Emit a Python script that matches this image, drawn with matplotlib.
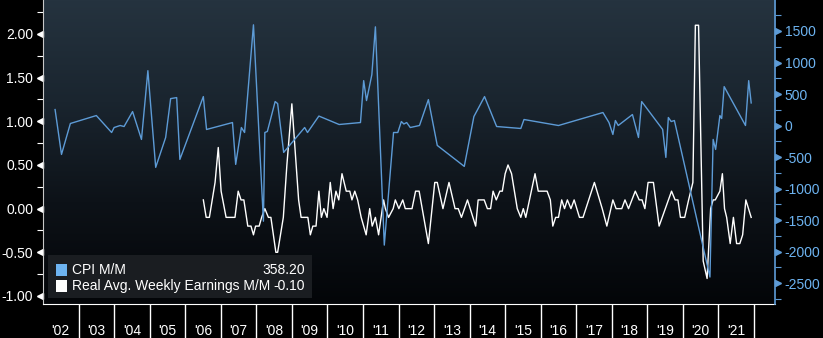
import numpy as np
import matplotlib
matplotlib.use("Agg")
import matplotlib.pyplot as plt
from matplotlib.colors import LinearSegmentedColormap
from matplotlib.patches import Rectangle

plt.rcParams['font.family'] = ['Liberation Sans', 'DejaVu Sans']

# CPI M/M (right axis), dates as decimal years
cpi_dates = [2002.34, 2002.52, 2002.77, 2003.50, 2003.93, 2004.00, 2004.17, 2004.28,
             2004.52, 2004.77, 2004.95, 2005.17, 2005.45, 2005.59, 2005.76, 2005.85,
             2006.51, 2006.60, 2007.33, 2007.42, 2007.58, 2007.67, 2007.92, 2008.20,
             2008.24, 2008.31, 2008.53, 2008.60, 2008.77, 2009.36, 2009.44, 2009.76,
             2010.33, 2010.93, 2011.02, 2011.10, 2011.25, 2011.35, 2011.60, 2011.86,
             2011.98, 2012.08, 2012.15, 2012.23, 2012.33, 2012.59, 2012.84, 2013.09,
             2013.85, 2014.12, 2014.42, 2014.76, 2015.44, 2015.53, 2016.50, 2017.75,
             2017.92, 2018.03, 2018.10, 2018.18, 2018.58, 2018.75, 2018.84, 2019.43,
             2019.52, 2019.59, 2019.67, 2019.76, 2020.76, 2020.85, 2020.92, 2021.04,
             2021.09, 2021.16, 2021.76, 2021.85, 2021.92]
cpi_values = [253, -459, 32, 158, -111, -32, 0, -16,
              221, -221, 870, -664, -190, 427, 443, -538,
              459, -63, 47, -617, -32, -111, 1598, -1519,
              -111, -95, 380, 348, -427, -32, -111, 150,
              16, 47, 712, 396, 807, 1566, -1898, -111,
              -111, 63, 24, 47, -32, 0, 411, -316,
              -649, 142, 459, -16, -47, 95, 0, 206,
              47, -142, 79, 0, 174, -190, 380, -63,
              -506, 127, 63, 79, -2405, -221, -380, 158,
              111, 617, 0, 712, 358.20]

# Real Avg. Weekly Earnings M/M (left axis)
earn_dates = [2006.51, 2006.59, 2006.68, 2006.84, 2006.93, 2007.01, 2007.15, 2007.40,
              2007.49, 2007.57, 2007.65, 2007.76, 2007.85, 2007.92, 2007.98, 2008.08,
              2008.15, 2008.24, 2008.34, 2008.41, 2008.55, 2008.60, 2008.76, 2008.86,
              2009.00, 2009.19, 2009.26, 2009.45, 2009.52, 2009.59, 2009.68, 2009.76,
              2009.83, 2009.90, 2009.99, 2010.08, 2010.16, 2010.24, 2010.32, 2010.41,
              2010.53, 2010.63, 2010.69, 2010.77, 2010.85, 2010.95, 2011.09, 2011.19,
              2011.26, 2011.35, 2011.44, 2011.58, 2011.63, 2011.72, 2011.85, 2011.91,
              2012.01, 2012.12, 2012.19, 2012.38, 2012.48, 2012.58, 2012.84, 2013.02,
              2013.09, 2013.25, 2013.42, 2013.59, 2013.68, 2013.77, 2013.94, 2014.17,
              2014.24, 2014.41, 2014.50, 2014.59, 2014.66, 2014.75, 2014.85, 2014.92,
              2015.00, 2015.08, 2015.18, 2015.34, 2015.44, 2015.51, 2015.58, 2015.84,
              2015.93, 2016.18, 2016.27, 2016.34, 2016.42, 2016.50, 2016.59, 2016.67,
              2016.75, 2016.85, 2016.94, 2017.09, 2017.19, 2017.51, 2017.73, 2017.86,
              2018.03, 2018.12, 2018.28, 2018.37, 2018.47, 2018.66, 2018.77, 2018.85,
              2018.93, 2019.02, 2019.17, 2019.33, 2019.68, 2019.78, 2019.86, 2019.93,
              2020.05, 2020.16, 2020.28, 2020.35, 2020.44, 2020.57, 2020.68, 2020.78,
              2020.85, 2020.91, 2021.04, 2021.11, 2021.17, 2021.23, 2021.33, 2021.42,
              2021.51, 2021.60, 2021.68, 2021.77, 2021.92]
earn_values = [0.1, -0.1, -0.1, 0.3, 0.7, 0.2, -0.1, -0.1,
               0.2, 0.1, 0.1, -0.2, -0.2, -0.3, -0.2, -0.2,
               -0.1, 0.0, -0.1, -0.1, -0.5, -0.5, -0.1, 0.5,
               1.2, 0.1, -0.1, -0.1, -0.3, -0.2, -0.2, 0.2,
               -0.1, 0.0, -0.1, 0.3, 0.0, 0.2, 0.1, 0.4,
               0.2, 0.2, 0.1, 0.2, 0.1, -0.1, -0.3, 0.0,
               -0.2, -0.1, -0.3, 0.1, 0.0, -0.1, 0.0, 0.1,
               0.0, 0.1, 0.0, 0.0, 0.2, 0.2, -0.4, 0.3,
               0.3, 0.0, 0.3, 0.0, 0.0, -0.1, 0.1, -0.2,
               0.1, 0.1, 0.0, 0.0, 0.2, 0.1, 0.2, 0.2,
               0.4, 0.5, 0.4, 0.0, -0.1, 0.0, -0.1, 0.4,
               0.2, 0.2, 0.1, -0.2, -0.1, -0.1, 0.1, 0.0,
               0.1, 0.0, 0.1, -0.1, -0.1, 0.3, 0.0, -0.2,
               0.1, 0.0, 0.0, 0.1, 0.0, 0.2, 0.1, 0.1,
               0.0, 0.3, 0.3, -0.2, 0.2, 0.1, 0.1, -0.1,
               -0.1, 0.1, 0.3, 2.1, 2.1, -0.6, -0.8, 0.0,
               0.1, 0.1, 0.2, 0.4, 0.0, -0.1, -0.4, -0.1,
               -0.4, -0.4, -0.3, 0.1, -0.10]

years = list(range(2002, 2022))
year_labels = ["'%02d" % (y % 100) for y in years]

left_ticks = [-1.0, -0.5, 0.0, 0.5, 1.0, 1.5, 2.0]
right_ticks = [-2500, -2000, -1500, -1000, -500, 0, 500, 1000, 1500]

BLUE = '#5d9bd6'
BLUE_KEY = '#6db3f0'
FS = 10

fig = plt.figure(figsize=(8.23, 3.38), dpi=100, facecolor='black')
ax = fig.add_axes([43 / 823, 34 / 338, 732 / 823, 304 / 338])
ax2 = ax.twinx()

# dark slate -> black background gradient
cmap = LinearSegmentedColormap.from_list('bg', ['#030508', '#0d1218', '#1a252f', '#25333f'])
ax.imshow(np.linspace(1, 0, 256).reshape(-1, 1), cmap=cmap, aspect='auto',
          extent=[0, 1, 0, 1], transform=ax.transAxes, zorder=0)

ax.plot(earn_dates, earn_values, color='white', lw=1.0, zorder=3)
ax2.plot(cpi_dates, cpi_values, color=BLUE, lw=1.0, zorder=3)

ax.set_xlim(2002, 2022.59)
ax.set_ylim(-1.092, 2.389)
ax2.set_ylim(-2833, 1992)

for s in ['top', 'right']:
    ax.spines[s].set_visible(False)
for s in ['top', 'left', 'bottom']:
    ax2.spines[s].set_visible(False)
ax.spines['left'].set_color('#c8c8c8')
ax.spines['bottom'].set_color('white')
ax2.spines['right'].set_color(BLUE)
ax2.spines['right'].set_linewidth(1.2)

ax.set_xticks([])

# left axis: white labels, arrow markers, small minor ticks
ax.set_yticks(left_ticks)
ax.set_yticklabels(['%.2f' % v for v in left_ticks])
ax.set_yticks(np.arange(-0.75, 2.3, 0.5), minor=True)
ax.tick_params(axis='y', which='major', length=0, pad=7, labelcolor='white', labelsize=FS)
ax.tick_params(axis='y', which='minor', length=4, width=0.8, color='white')
ax.plot([-0.0042] * len(left_ticks), left_ticks, marker='<', ms=4.5, ls='none',
        color='white', transform=ax.get_yaxis_transform(), clip_on=False)

# right axis: blue labels and markers
ax2.set_yticks(right_ticks)
ax2.set_yticklabels(['%d' % v for v in right_ticks])
ax2.set_yticks(np.arange(-2750, 1800, 500), minor=True)
ax2.tick_params(axis='y', which='major', length=0, pad=7, labelcolor=BLUE_KEY, labelsize=FS)
ax2.tick_params(axis='y', which='minor', length=4, width=0.8, color=BLUE)
ax2.plot([1.0042] * len(right_ticks), right_ticks, marker='>', ms=4.5, ls='none',
         color=BLUE, transform=ax2.get_yaxis_transform(), clip_on=False)

# year bands under the axis
xt = ax.get_xaxis_transform()
ax.vlines(years[1:] + [2022], -34 / 304, 0, color='white', lw=1.0,
          transform=xt, clip_on=False)
for y, lab in zip(years, year_labels):
    ax.text(y + 0.5, -27 / 304, lab, color='white', fontsize=FS,
            ha='center', va='center', transform=xt)

# legend box
ax2.add_patch(Rectangle((5 / 732, 6 / 304), 264 / 732, 43 / 304, transform=ax.transAxes,
                        facecolor='#1c1f23', edgecolor='none', alpha=0.95, zorder=5))
rows = [(BLUE_KEY, 'CPI M/M', '358.20', 270), ('white', 'Real Avg. Weekly Earnings M/M', '-0.10', 286)]
for col, name, val, ypix in rows:
    yy = (304 - ypix) / 304
    ax2.add_patch(Rectangle((13 / 732, yy - 6 / 304), 11 / 732, 12 / 304,
                            transform=ax.transAxes, facecolor=col, edgecolor='none', zorder=6))
    ax2.text(29 / 732, yy, name, color='white', fontsize=FS, ha='left', va='center',
             transform=ax.transAxes, zorder=7)
    ax2.text(262 / 732, yy, val, color='white', fontsize=FS, ha='right', va='center',
             transform=ax.transAxes, zorder=7)

fig.savefig('out.png', dpi=100, facecolor='black')
